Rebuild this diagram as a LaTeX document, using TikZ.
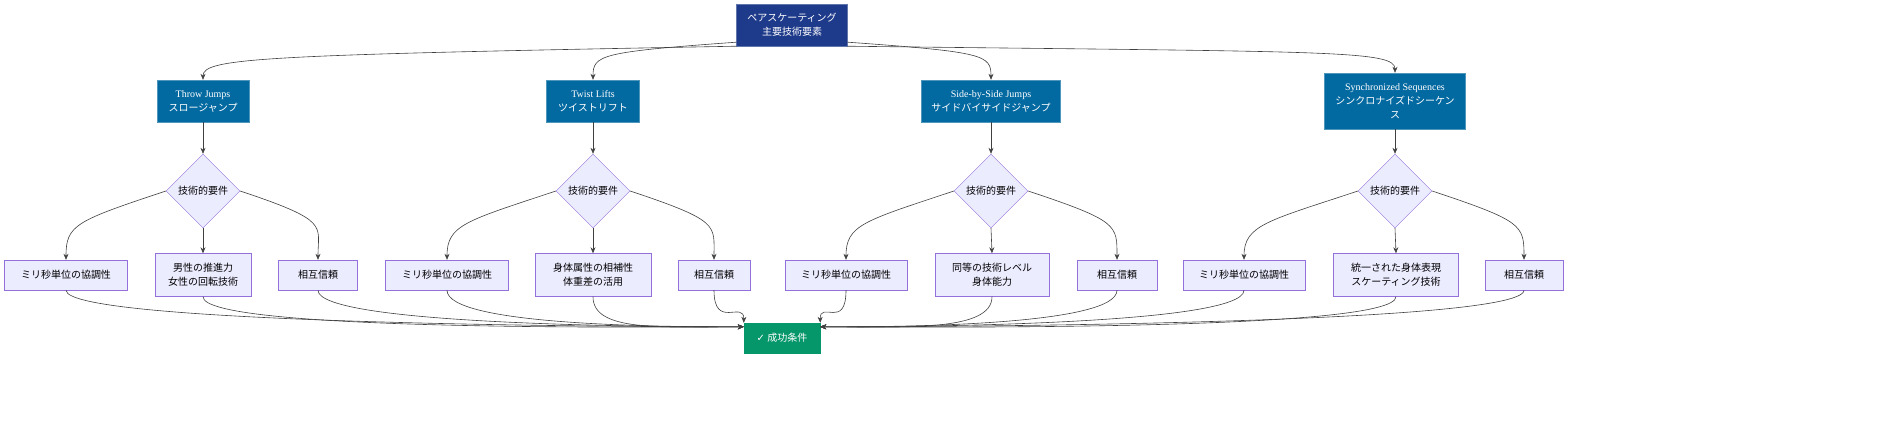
\documentclass[tikz,border=0pt]{standalone}
\usepackage{fontspec}
\setmainfont{Liberation Serif}
\newfontfamily\jp{Noto Sans CJK JP}
\newfontfamily\sym{DejaVu Sans}
\usetikzlibrary{shapes.geometric,arrows.meta}
\definecolor{topc}{HTML}{1E3A8A}
\definecolor{midc}{HTML}{0369A1}
\definecolor{lav}{HTML}{ECECFF}
\definecolor{lavb}{HTML}{9370DB}
\definecolor{okc}{HTML}{059669}
\begin{document}
\begin{tikzpicture}[x=1pt,y=-1pt,
 every node/.style={font=\jp\fontsize{10}{14}\selectfont,align=center,inner sep=0pt},
 top/.style={fill=topc,draw=topc!70!white,text=white,minimum height=42pt},
 mid/.style={fill=midc,draw=midc!70!white,text=white},
 dia/.style={diamond,fill=lav,draw=lavb,minimum width=74pt,minimum height=74pt,aspect=1},
 leaf/.style={fill=lav,draw=lavb},
 ok/.style={fill=okc,draw=okc,text=white,minimum width=76pt,minimum height=30pt},
 ar/.style={draw=black!75,-{Stealth[length=6pt,width=5pt]},line width=0.6pt}]
\useasboundingbox (0,0) rectangle (1904,434);
\node[top,minimum width=111pt] (t) at (792,25) {ペアスケーティング\\主要技術要素};
\node[mid,minimum width=92pt,minimum height=42pt] (a) at (203,101) {{\rmfamily Throw Jumps}\\スロージャンプ};
\node[mid,minimum width=93pt,minimum height=42pt] (b) at (593,101) {{\rmfamily Twist Lifts}\\ツイストリフト};
\node[mid,minimum width=139pt,minimum height=42pt] (c) at (991,101) {{\rmfamily Side-by-Side Jumps}\\サイドバイサイドジャンプ};
\node[mid,minimum width=141pt,minimum height=56pt] (d) at (1395,101) {{\rmfamily Synchronized Sequences}\\シンクロナイズドシーケン\\ス};
\draw[ar] (t.south west) .. controls (260,55) and (203,58) .. (a.north);
\draw[ar] (t.south west) ++(0,-4) .. controls (600,52) and (593,55) .. (b.north);
\draw[ar] (t.south east) ++(0,-4) .. controls (985,52) and (991,55) .. (c.north);
\draw[ar] (t.south east) .. controls (1330,52) and (1395,50) .. (d.north);
\foreach \n/\x in {a/203,b/593,c/991,d/1395}{
 \node[dia] (\n r) at (\x,191) {技術的要件};
 \draw[ar] (\n) -- (\n r);
}
\node[leaf,minimum width=123pt,minimum height=30pt] (a1) at (66,275) {ミリ秒単位の協調性};
\node[leaf,minimum width=96pt,minimum height=43pt] (a2) at (203,275) {男性の推進力\\女性の回転技術};
\node[leaf,minimum width=79pt,minimum height=30pt] (a3) at (318,275) {相互信頼};
\node[leaf,minimum width=123pt,minimum height=30pt] (b1) at (447,275) {ミリ秒単位の協調性};
\node[leaf,minimum width=116pt,minimum height=43pt] (b2) at (593,275) {身体属性の相補性\\体重差の活用};
\node[leaf,minimum width=72pt,minimum height=30pt] (b3) at (714,275) {相互信頼};
\node[leaf,minimum width=122pt,minimum height=30pt] (c1) at (846,275) {ミリ秒単位の協調性};
\node[leaf,minimum width=114pt,minimum height=43pt] (c2) at (992,275) {同等の技術レベル\\身体能力};
\node[leaf,minimum width=80pt,minimum height=30pt] (c3) at (1117,275) {相互信頼};
\node[leaf,minimum width=122pt,minimum height=30pt] (d1) at (1244,275) {ミリ秒単位の協調性};
\node[leaf,minimum width=125pt,minimum height=43pt] (d2) at (1396,275) {統一された身体表現\\スケーティング技術};
\node[leaf,minimum width=78pt,minimum height=30pt] (d3) at (1524,275) {相互信頼};
\foreach \n in {a,b,c,d}{
 \draw[ar] (\n r.south) -- (\n 2.north);
 \draw[ar] (\n r.west) .. controls +(-90,30) and +(0,-35) .. (\n 1.north);
 \draw[ar] (\n r.east) .. controls +(90,30) and +(0,-35) .. (\n 3.north);
}
\node[ok] (s) at (782,338) {{\sym ✓} 成功条件};
\coordinate (sl) at ([yshift=-4pt]s.north west);
\coordinate (sr) at ([yshift=-4pt]s.north east);
\foreach \n in {a1,a2,a3,b1,b2}{
 \draw[ar] (\n.south) .. controls +(0,35) and (660,327) .. (sl);
}
\draw[ar] (b3.south) .. controls +(0,40) and (744,300) .. (s.north west);
\draw[ar] (c1.south) .. controls +(0,40) and (820,300) .. (s.north east);
\foreach \n in {c2,c3,d1,d2,d3}{
 \draw[ar] (\n.south) .. controls +(0,35) and (905,327) .. (sr);
}
\end{tikzpicture}
\end{document}
